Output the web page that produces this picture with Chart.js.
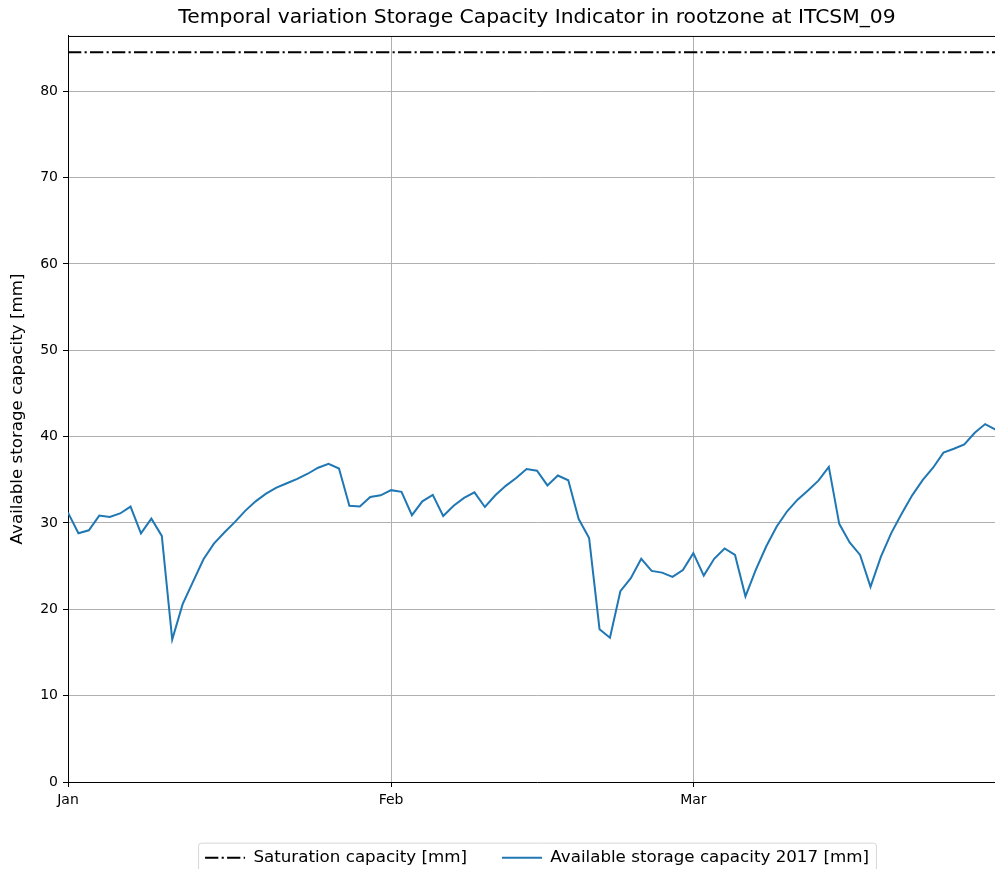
<!DOCTYPE html>
<html>
<head>
<meta charset="utf-8">
<title>Storage Capacity Indicator ITCSM_09</title>
<script src="https://cdn.jsdelivr.net/npm/chart.js@4/dist/chart.umd.min.js"></script>
<style>
  html, body { margin: 0; padding: 0; background: #fff; overflow: hidden; }
  #wrap { width: 995px; height: 869px; overflow: hidden; position: relative; }
  canvas { display: block; }
</style>
</head>
<body>
<div id="wrap"><canvas id="chart" width="1074" height="876"></canvas></div>
<script>
// Daily available storage capacity in the rootzone (mm), day 0 = 1 January
const storage2017 = [
  31.2, 28.8, 29.15, 30.85, 30.7, 31.1, 31.9, 28.8, 30.5, 28.5,
  16.5, 20.6, 23.2, 25.8, 27.6, 28.9, 30.1, 31.4, 32.5, 33.4,
  34.1, 34.6, 35.1, 35.7, 36.4, 36.85, 36.3, 32.0, 31.9, 33.0,
  33.2, 33.8, 33.6, 30.9, 32.5, 33.25, 30.8, 32.0, 32.9, 33.55,
  31.85, 33.2, 34.3, 35.2, 36.25, 36.05, 34.35, 35.5, 34.95, 30.45,
  28.25, 17.7, 16.7, 22.1, 23.6, 25.85, 24.45, 24.25, 23.75, 24.55,
  26.5, 23.9, 25.85, 27.05, 26.3, 21.5, 24.6, 27.3, 29.6, 31.35,
  32.7, 33.75, 34.9, 36.5, 29.9, 27.75, 26.3, 22.6, 26.1, 28.85,
  31.1, 33.2, 34.95, 36.4, 38.15, 38.6, 39.1, 40.45, 41.45, 40.8
];
const saturationCapacity = 84.5;

// Month ticks on the day axis
const monthTicks = [0, 31, 60];
const monthLabels = ['Jan', 'Feb', 'Mar'];
const yTicks = [0, 10, 20, 30, 40, 50, 60, 70, 80];

const dayRange = [0, 90];
const yRange = [0, 86.4];

const storagePoints = storage2017.map((v, i) => ({ x: i, y: v }));
const saturationPoints = [
  { x: 0, y: saturationCapacity },
  { x: storage2017.length - 1, y: saturationCapacity }
];

Chart.defaults.font.family = "'DejaVu Sans', sans-serif";
Chart.defaults.color = '#000';

const PLOT_BOTTOM = 782;
const AXIS_WIDTH = 68;

// Top spine and the rounded legend frame
const framePlugin = {
  id: 'frame',
  afterDatasetsDraw(chart) {
    const { ctx, chartArea } = chart;
    ctx.save();
    ctx.strokeStyle = '#000';
    ctx.lineWidth = 1;
    ctx.beginPath();
    ctx.moveTo(chartArea.left, chartArea.top + 0.5);
    ctx.lineTo(chartArea.right, chartArea.top + 0.5);
    ctx.stroke();
    ctx.restore();
  },
  afterDraw(chart) {
    const lg = chart.legend;
    if (!lg || !lg.legendHitBoxes || !lg.legendHitBoxes.length) return;
    const boxes = lg.legendHitBoxes;
    const first = boxes[0], last = boxes[boxes.length - 1];
    const x0 = first.left - 6.5;
    const x1 = last.left + last.width + 7.5;
    const cy = first.top + first.height / 2;
    const y0 = cy - 14.5, y1 = cy + 19;
    const r = 3;
    const { ctx } = chart;
    ctx.save();
    ctx.strokeStyle = '#d6d6d6';
    ctx.lineWidth = 1;
    ctx.beginPath();
    ctx.moveTo(x0 + r, y0);
    ctx.lineTo(x1 - r, y0);
    ctx.arcTo(x1, y0, x1, y0 + r, r);
    ctx.lineTo(x1, y1 - r);
    ctx.arcTo(x1, y1, x1 - r, y1, r);
    ctx.lineTo(x0 + r, y1);
    ctx.arcTo(x0, y1, x0, y1 - r, r);
    ctx.lineTo(x0, y0 + r);
    ctx.arcTo(x0, y0, x0 + r, y0, r);
    ctx.closePath();
    ctx.stroke();
    ctx.restore();
  }
};

new Chart(document.getElementById('chart'), {
  type: 'line',
  data: {
    datasets: [
      {
        label: 'Saturation capacity [mm]',
        data: saturationPoints,
        borderColor: '#000',
        borderWidth: 2,
        borderDash: [13.3, 3.3, 2.1, 3.3],
        pointRadius: 0,
        tension: 0,
        fill: false
      },
      {
        label: 'Available storage capacity 2017 [mm]',
        data: storagePoints,
        borderColor: '#1f77b4',
        borderWidth: 2,
        pointRadius: 0,
        tension: 0,
        fill: false
      }
    ]
  },
  options: {
    responsive: false,
    animation: false,
    devicePixelRatio: 1,
    layout: { padding: { left: 0, right: 0, top: 0, bottom: 0 } },
    plugins: {
      title: {
        display: true,
        text: 'Temporal variation Storage Capacity Indicator in rootzone at ITCSM_09',
        color: '#000',
        font: { size: 20.3, weight: 'normal', lineHeight: 1.2 },
        padding: { top: 6, bottom: 5.6 }
      },
      legend: {
        display: true,
        position: 'bottom',
        labels: {
          color: '#000',
          font: { size: 16.7 },
          padding: 35,
          usePointStyle: true,
          pointStyleWidth: 40,
          generateLabels(chart) {
            return chart.data.datasets.map((ds, i) => ({
              text: ds.label,
              datasetIndex: i,
              fillStyle: 'rgba(0,0,0,0)',
              strokeStyle: ds.borderColor,
              lineWidth: ds.borderWidth,
              lineDash: ds.borderDash || [],
              lineCap: 'butt',
              pointStyle: 'line',
              fontColor: '#000',
              hidden: false
            }));
          }
        }
      },
      tooltip: { enabled: false }
    },
    scales: {
      x: {
        type: 'linear',
        min: dayRange[0],
        max: dayRange[1],
        afterBuildTicks(scale) {
          scale.ticks = monthTicks.map(v => ({ value: v }));
        },
        afterFit(scale) {
          const legendH = scale.chart.legend ? scale.chart.legend.height : 0;
          scale.height = scale.chart.height - legendH - PLOT_BOTTOM;
        },
        ticks: {
          autoSkip: false,
          maxRotation: 0,
          padding: 5,
          color: '#000',
          font: { size: 14 },
          callback(v) {
            const i = monthTicks.indexOf(v);
            return i >= 0 ? monthLabels[i] : '';
          }
        },
        grid: {
          color: '#b0b0b0',
          lineWidth: 1,
          tickColor: '#000',
          tickLength: 5,
          drawTicks: true
        },
        border: { display: true, color: '#000', width: 1 }
      },
      y: {
        type: 'linear',
        position: 'left',
        min: yRange[0],
        max: yRange[1],
        afterBuildTicks(scale) {
          scale.ticks = yTicks.map(v => ({ value: v }));
        },
        afterFit(scale) {
          scale.width = AXIS_WIDTH;
        },
        ticks: {
          padding: 5,
          color: '#000',
          font: { size: 14 }
        },
        grid: {
          color: '#b0b0b0',
          lineWidth: 1,
          tickColor: '#000',
          tickLength: 5
        },
        border: { display: true, color: '#000', width: 1 },
        title: {
          display: true,
          text: 'Available storage capacity [mm]',
          color: '#000',
          font: { size: 16.7, lineHeight: 1.2 },
          padding: { top: 8, bottom: 0 }
        }
      },
      // right-hand margin of the axes box, mirrors the left axis width
      yRight: {
        type: 'linear',
        position: 'right',
        min: yRange[0],
        max: yRange[1],
        afterFit(scale) {
          scale.width = AXIS_WIDTH;
        },
        ticks: { display: false },
        grid: { display: false, drawOnChartArea: false },
        border: { display: true, color: '#000', width: 1 }
      }
    }
  },
  plugins: [framePlugin]
});
</script>
</body>
</html>
